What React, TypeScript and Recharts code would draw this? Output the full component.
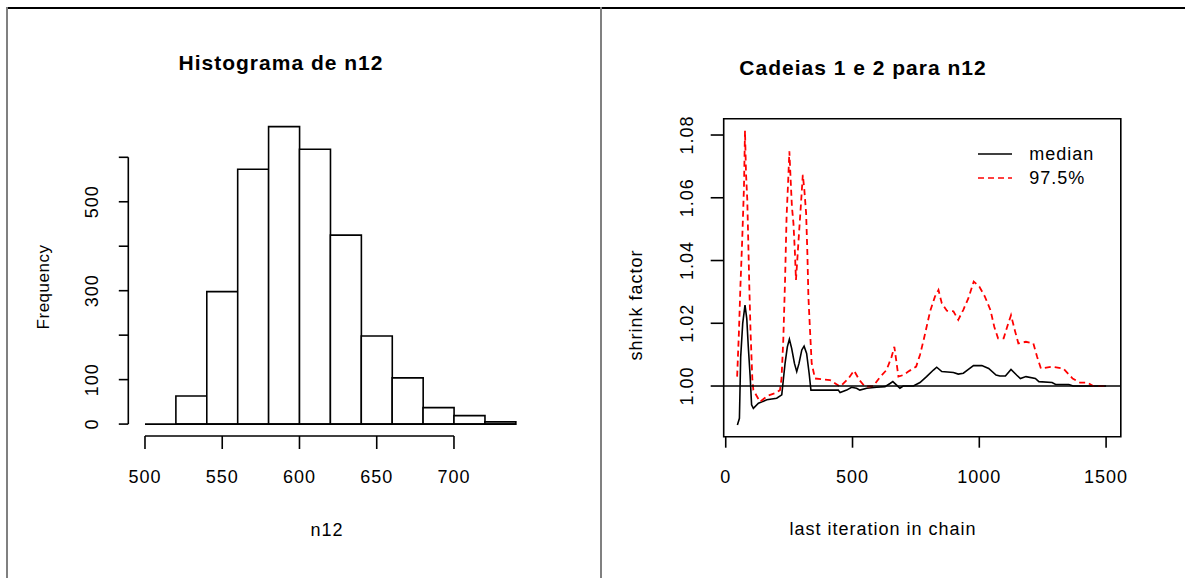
import React from "react";
import {
  ComposedChart,
  LineChart,
  Bar,
  Line,
  XAxis,
  YAxis,
  ReferenceLine,
  ReferenceArea,
  Legend,
} from "recharts";

// histogram of n12 (bins of width 20, 500..740)
const binMids = [510, 530, 550, 570, 590, 610, 630, 650, 670, 690, 710, 730];
const binCounts = [0, 63, 298, 573, 669, 618, 425, 198, 104, 37, 19, 5];
const histXTicks = [500, 550, 600, 650, 700];
const histYTicks = [0, 100, 200, 300, 400, 500, 600];
const histYLabels = [0, 100, 300, 500]; // R drops the labels that would overlap

// gelman plot, chains 1 and 2
const medianIter = [
  46, 54, 59, 67, 76, 83, 89, 96, 102, 109, 129, 162, 201, 221, 227, 234, 243,
  251, 260, 271, 280, 289, 300, 309, 319, 329, 336, 444, 451, 477, 496, 516,
  529, 556, 595, 628, 648, 659, 674, 687, 700, 740, 766, 792, 819, 832, 852,
  898, 917, 937, 957, 977, 1010, 1037, 1066, 1081, 1103, 1125, 1147, 1162,
  1184, 1221, 1235, 1287, 1301, 1353, 1370, 1500,
];
const medianShrink = [
  0.9876, 0.9897, 1.0093, 1.02, 1.0258, 1.0215, 1.0125, 1.0035, 0.994, 0.9929,
  0.9945, 0.9956, 0.9961, 0.9972, 1.0019, 1.0072, 1.0125, 1.0149, 1.012,
  1.0072, 1.0046, 1.0072, 1.0115, 1.0127, 1.0104, 1.004, 0.9987, 0.9987,
  0.9979, 0.9987, 0.9996, 0.9993, 0.9987, 0.9993, 0.9996, 0.9998, 1.0008,
  1.0014, 1.0003, 0.9993, 1.0, 1.0, 1.0011, 1.003, 1.0051, 1.006, 1.0046,
  1.0043, 1.0038, 1.0041, 1.0053, 1.0065, 1.0065, 1.0056, 1.0035, 1.0032,
  1.0032, 1.0053, 1.0035, 1.0024, 1.003, 1.0024, 1.0014, 1.0011, 1.0005,
  1.0005, 1.0, 1.0,
];
const upperIter = [
  45, 52, 58, 65, 72, 76, 80, 85, 89, 93, 98, 105, 109, 135, 168, 194, 214,
  220, 227, 234, 240, 247, 251, 256, 261, 267, 273, 277, 283, 289, 296, 304,
  310, 317, 322, 326, 333, 339, 352, 411, 451, 484, 506, 527, 549, 582, 608,
  634, 654, 665, 674, 681, 700, 720, 751, 766, 782, 806, 825, 839, 852, 872,
  898, 917, 937, 957, 978, 1000, 1022, 1044, 1059, 1074, 1096, 1110, 1125,
  1140, 1154, 1184, 1213, 1228, 1243, 1287, 1331, 1368, 1397, 1426, 1449, 1500,
];
const upperShrink = [
  1.003, 1.0171, 1.032, 1.0466, 1.0636, 1.0814, 1.0678, 1.0594, 1.0456, 1.0318,
  1.017, 1.0021, 0.9987, 0.995, 0.997, 0.9977, 0.9987, 1.0024, 1.0147, 1.0338,
  1.054, 1.0668, 1.0748, 1.0657, 1.0572, 1.0519, 1.0423, 1.0338, 1.0412,
  1.0487, 1.0572, 1.0673, 1.0625, 1.0551, 1.0423, 1.0285, 1.0168, 1.0072,
  1.0024, 1.0019, 0.9998, 1.0024, 1.0049, 1.0019, 0.9998, 1.0, 1.0028, 1.0051,
  1.0093, 1.0125, 1.0072, 1.003, 1.0035, 1.0046, 1.0062, 1.0099, 1.0152,
  1.0238, 1.0285, 1.0306, 1.0264, 1.024, 1.0238, 1.0211, 1.0243, 1.028,
  1.0333, 1.0317, 1.0285, 1.0242, 1.0189, 1.0152, 1.0152, 1.0189, 1.0226,
  1.0178, 1.0136, 1.0141, 1.0136, 1.0093, 1.0056, 1.0062, 1.0056, 1.0024,
  1.0011, 1.0011, 1.0, 1.0,
];
const shrinkXTicks = [0, 500, 1000, 1500];
const shrinkYTicks = [1.0, 1.02, 1.04, 1.06, 1.08];
const legendOrder = ["median", "97.5%"];

const FONT = "'Liberation Sans', Arial, sans-serif";
const txt = { fontFamily: FONT, fontSize: 18, letterSpacing: 1, fill: "#000" };

function Txt({ x, y, children, size = 18, bold = false, rotate = false, spacing = 1 }: any) {
  return (
    <div
      style={{
        position: "absolute",
        left: x,
        top: y,
        transform: `translate(-50%, -50%)${rotate ? " rotate(-90deg)" : ""}`,
        whiteSpace: "nowrap",
        fontFamily: FONT,
        fontSize: size,
        fontWeight: bold ? 700 : 400,
        letterSpacing: spacing,
        color: "#000",
        lineHeight: 1,
      }}>
      {children}
    </div>
  );
}

const BottomTick = ({ x, y, payload, dy }: any) => (
  <text x={x} y={y + dy} textAnchor="middle" dominantBaseline="central" style={txt}>
    {payload.value}
  </text>
);

const SideTick = ({ x, y, payload, dx, show, digits }: any) => {
  if (show && !show.includes(payload.value)) return null;
  const cx = x + dx;
  const label = digits ? Number(payload.value).toFixed(digits) : payload.value;
  return (
    <text
      x={cx}
      y={y}
      transform={`rotate(-90 ${cx} ${y})`}
      textAnchor="middle"
      dominantBaseline="central"
      style={txt}>
      {label}
    </text>
  );
};

function Histogram() {
  const rows = binMids.map((mid, i) => ({ mid, count: binCounts[i] }));
  const yMin = -26.8;
  const xMin = 489.2;
  return (
    <ComposedChart
      width={600}
      height={578}
      data={rows}
      margin={{ top: 114.7, right: 69.4, bottom: 141, left: 127.3 }}
      barCategoryGap={0}
      barGap={0}>
      <XAxis
        type="number"
        dataKey="mid"
        domain={[xMin, 749.6]}
        ticks={histXTicks}
        interval={0}
        allowDataOverflow
        axisLine={false}
        tickLine={{ stroke: "#000", strokeWidth: 1.6 }}
        tickSize={13}
        tickMargin={0}
        height={1}
        tick={<BottomTick dy={27.5} />}
      />
      <YAxis
        type="number"
        domain={[yMin, 695.8]}
        ticks={histYTicks}
        interval={0}
        allowDataOverflow
        axisLine={false}
        tickLine={{ stroke: "#000", strokeWidth: 1.6 }}
        tickSize={9.5}
        tickMargin={0}
        width={1}
        tick={<SideTick dx={-27} show={histYLabels} />}
      />
      <Bar
        dataKey="count"
        fill="#fff"
        stroke="#000"
        strokeWidth={1.6}
        isAnimationActive={false}
      />
      <ReferenceLine
        segment={[{ x: binMids[0] - 10, y: 0 }, { x: binMids[binMids.length - 1] + 10, y: 0 }]}
        stroke="#000"
        strokeWidth={1.6}
        ifOverflow="visible"
      />
      <ReferenceLine
        segment={[{ x: histXTicks[0], y: yMin }, { x: histXTicks[histXTicks.length - 1], y: yMin }]}
        stroke="#000"
        strokeWidth={1.6}
        ifOverflow="visible"
      />
      <ReferenceLine
        segment={[{ x: xMin, y: histYTicks[0] }, { x: xMin, y: histYTicks[histYTicks.length - 1] }]}
        stroke="#000"
        strokeWidth={1.6}
        ifOverflow="visible"
      />
    </ComposedChart>
  );
}

const ShrinkLegend = ({ payload }: any) => {
  const items = [...(payload || [])].sort(
    (a: any, b: any) => legendOrder.indexOf(a.value) - legendOrder.indexOf(b.value),
  );
  return (
    <div style={{ display: "flex", flexDirection: "column" }}>
      {items.map((entry: any) => (
        <div key={entry.value} style={{ height: 24.5, display: "flex", alignItems: "center" }}>
          <svg width={34} height={6}>
            <line
              x1={0}
              y1={3}
              x2={34}
              y2={3}
              stroke={entry.color}
              strokeWidth={1.6}
              strokeDasharray={entry.payload?.strokeDasharray}
            />
          </svg>
          <span
            style={{
              marginLeft: 17,
              fontFamily: FONT,
              fontSize: 18,
              letterSpacing: 1,
              color: "#000",
              lineHeight: 1,
            }}>
            {entry.value}
          </span>
        </div>
      ))}
    </div>
  );
};

function ShrinkPlot() {
  const median = medianIter.map((iter, i) => ({ iter, shrink: medianShrink[i] }));
  const upper = upperIter.map((iter, i) => ({ iter, shrink: upperShrink[i] }));
  const xDom: [number, number] = [-8, 1558];
  const yDom: [number, number] = [0.98385, 1.0852];
  return (
    <LineChart
      width={585}
      height={578}
      margin={{ top: 118.7, right: 64.2, bottom: 140.3, left: 122.7 }}>
      <XAxis
        type="number"
        dataKey="iter"
        domain={xDom}
        ticks={shrinkXTicks}
        interval={0}
        allowDataOverflow
        axisLine={false}
        tickLine={{ stroke: "#000", strokeWidth: 1.6 }}
        tickSize={11}
        tickMargin={0}
        height={1}
        tick={<BottomTick dy={29.5} />}
      />
      <YAxis
        type="number"
        domain={yDom}
        ticks={shrinkYTicks}
        interval={0}
        allowDataOverflow
        axisLine={false}
        tickLine={{ stroke: "#000", strokeWidth: 1.6 }}
        tickSize={13}
        tickMargin={0}
        width={1}
        tick={<SideTick dx={-23.6} digits={2} />}
      />
      <ReferenceArea
        x1={xDom[0]}
        x2={xDom[1]}
        y1={yDom[0]}
        y2={yDom[1]}
        fill="none"
        fillOpacity={0}
        stroke="#000"
        strokeWidth={1.6}
        ifOverflow="visible"
      />
      <Line
        data={median}
        dataKey="shrink"
        name="median"
        stroke="#000"
        strokeWidth={1.6}
        dot={false}
        activeDot={false}
        isAnimationActive={false}
      />
      <Line
        data={upper}
        dataKey="shrink"
        name="97.5%"
        stroke="#ff0000"
        strokeWidth={1.8}
        strokeDasharray="6 4"
        dot={false}
        activeDot={false}
        isAnimationActive={false}
      />
      <ReferenceLine y={1} stroke="#000" strokeWidth={1.6} />
      <Legend
        layout="horizontal"
        verticalAlign="middle"
        align="center"
        content={<ShrinkLegend />}
        wrapperStyle={{ position: "absolute", left: 378.3, top: 141.3, width: "auto", height: "auto" }}
      />
    </LineChart>
  );
}

export default function App() {
  return (
    <div style={{ position: "relative", width: 1185, height: 578, background: "#fff", overflow: "hidden" }}>
      <style>{"body{margin:0;background:#fff}"}</style>
      <div style={{ position: "absolute", left: 6, top: 7, width: 1179, height: 1.5, background: "#000" }} />
      <div style={{ position: "absolute", left: 6, top: 7, width: 2, height: 571, background: "#808080" }} />
      <div style={{ position: "absolute", left: 600, top: 7, width: 2, height: 571, background: "#808080" }} />

      <div style={{ position: "absolute", left: 0, top: 0 }}>
        <Histogram />
      </div>
      <div style={{ position: "absolute", left: 600, top: 0 }}>
        <ShrinkPlot />
      </div>

      <Txt x={281} y={62} size={21} bold>Histograma de n12</Txt>
      <Txt x={327} y={530}>n12</Txt>
      <Txt x={43} y={287} rotate size={17} spacing={0.5}>Frequency</Txt>

      <Txt x={863} y={67} size={21} bold>Cadeias 1 e 2 para n12</Txt>
      <Txt x={883} y={529}>last iteration in chain</Txt>
      <Txt x={636} y={305} rotate>shrink factor</Txt>
    </div>
  );
}
